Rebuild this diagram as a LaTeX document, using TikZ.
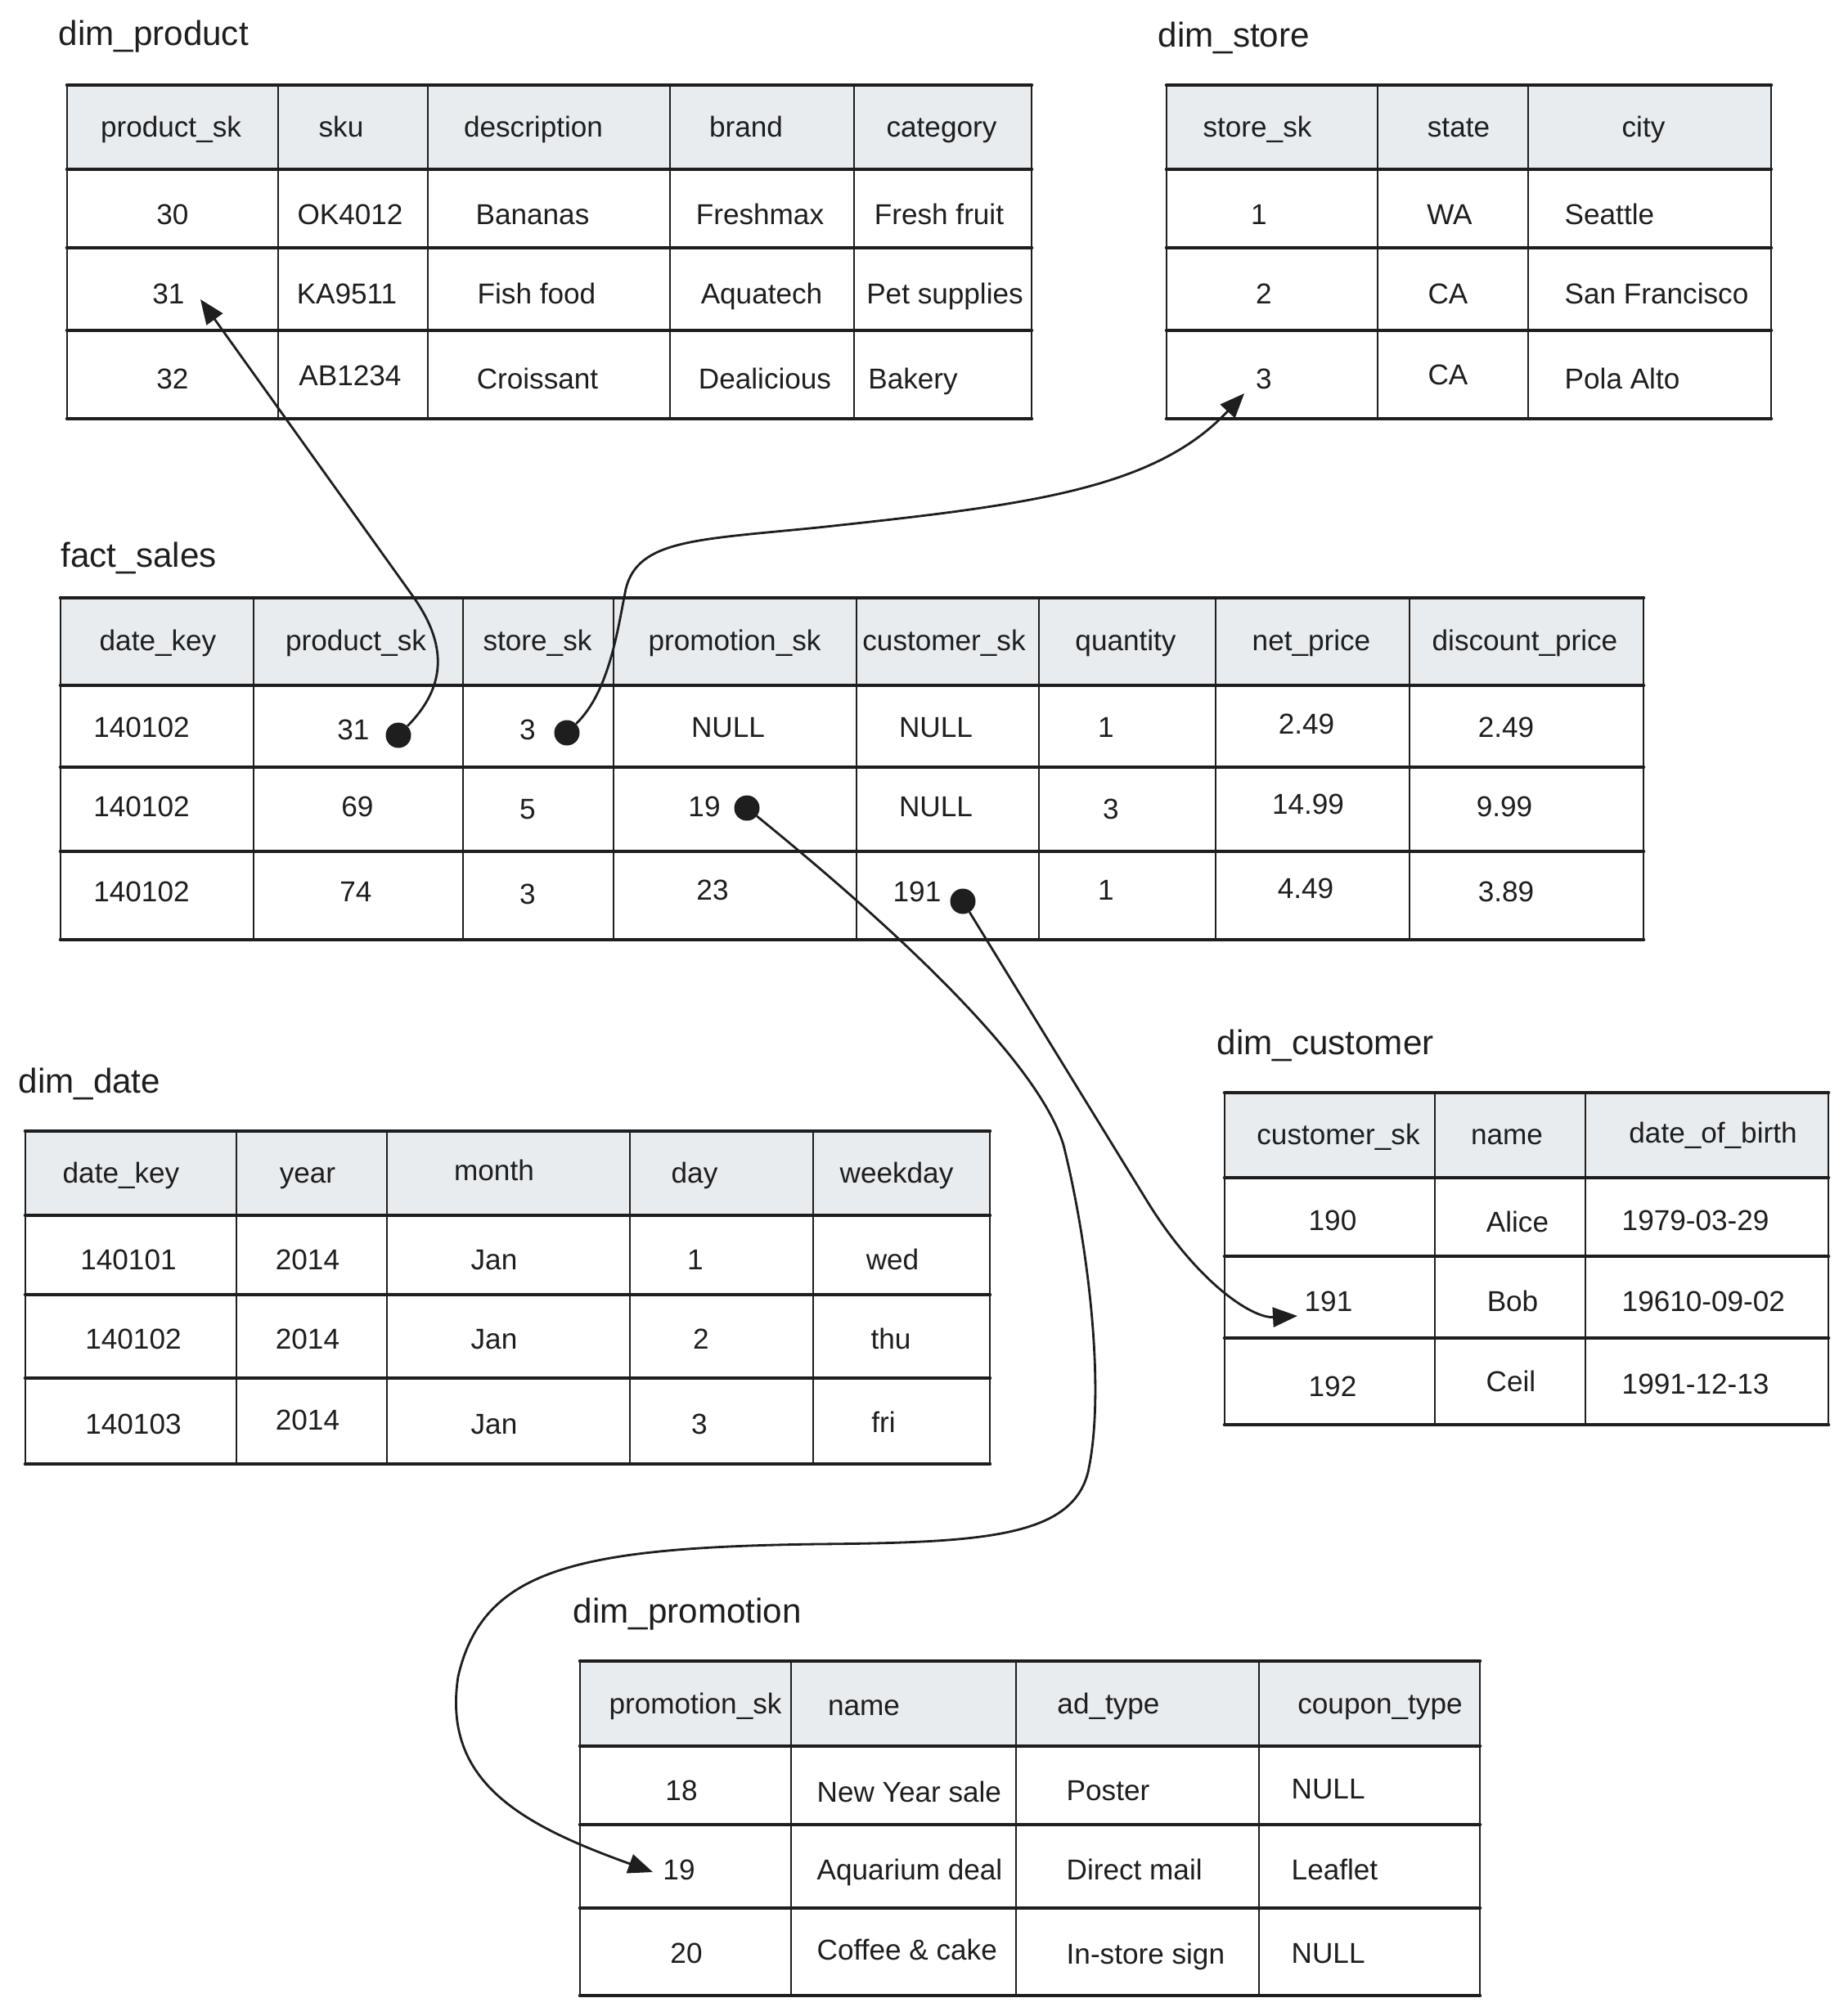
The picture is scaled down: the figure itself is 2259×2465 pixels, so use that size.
\documentclass[tikz,border=0pt]{standalone}
\usepackage{fontspec}
\setmainfont{Liberation Sans}
\usetikzlibrary{arrows.meta}
\definecolor{ink}{HTML}{1E1E1E}
\definecolor{hdrgray}{HTML}{E9ECEF}
\begin{document}
\begin{tikzpicture}[x=0.1mm,y=-0.1mm,
  hline/.style={line width=1.3pt, draw=ink, line cap=round},
  vline/.style={line width=0.75pt, draw=ink, line cap=round},
  hdrfill/.style={fill=hdrgray},
  cell/.style={inner sep=0pt, text height=7pt, text depth=2pt, yshift=-0.3mm, font=\fontsize{10}{12}\selectfont, text=ink},
  wcell/.style={cell, anchor=west},
  ttl/.style={anchor=base west, inner sep=0pt, font=\fontsize{12}{14}\selectfont, text=ink},
  dotnode/.style={circle, fill=ink, inner sep=0pt, minimum size=3.1mm},
  fk/.style={line width=0.8pt, draw=ink, line cap=round, -{Triangle[length=3mm, width=2.4mm]}}
]
\useasboundingbox (0,0) rectangle (2259,2465);

% ---------------- dim_product ----------------
\node[ttl] (tp) at (71,55) {dim\_product};
\fill[hdrfill] (82,104) rectangle (1261,207);
\foreach \y in {104,207,303,404,512} \draw[hline] (82,\y) -- (1261,\y);
\foreach \x in {82,340,523,819,1044,1261} \draw[vline] (\x,104) -- (\x,512);
\node[cell] (ph1) at (209,156) {product\_sk};
\node[cell] (ph2) at (417,156) {sku};
\node[cell] (ph3) at (652,156) {description};
\node[cell] (ph4) at (912,156) {brand};
\node[cell] (ph5) at (1151,156) {category};
\node[cell] (p11) at (211,263) {30};
\node[cell] (p12) at (428,263) {OK4012};
\node[cell] (p13) at (651,263) {Bananas};
\node[cell] (p14) at (929,263) {Freshmax};
\node[cell] (p15) at (1148,263) {Fresh fruit};
\node[cell] (p21) at (206,360) {31};
\node[cell] (p22) at (424,360) {KA9511};
\node[cell] (p23) at (656,360) {Fish food};
\node[cell] (p24) at (931,360) {Aquatech};
\node[cell] (p25) at (1155,360) {Pet supplies};
\node[cell] (p31) at (211,464) {32};
\node[cell] (p32) at (428,460) {AB1234};
\node[cell] (p33) at (657,464) {Croissant};
\node[cell] (p34) at (935,464) {Dealicious};
\node[cell] (p35) at (1116,464) {Bakery};

% ---------------- dim_store ----------------
\node[ttl] (ts) at (1415,57) {dim\_store};
\fill[hdrfill] (1426,104) rectangle (2165,207);
\foreach \y in {104,207,303,404,512} \draw[hline] (1426,\y) -- (2165,\y);
\foreach \x in {1426,1684,1868,2165} \draw[vline] (\x,104) -- (\x,512);
\node[cell] (sh1) at (1537,156) {store\_sk};
\node[cell] (sh2) at (1783,156) {state};
\node[cell] (sh3) at (2009,156) {city};
\node[cell] (s11) at (1539,263) {1};
\node[cell] (s12) at (1772,263) {WA};
\node[wcell] (s13) at (1912,263) {Seattle};
\node[cell] (s21) at (1545,360) {2};
\node[cell] (s22) at (1770,360) {CA};
\node[wcell] (s23) at (1912,360) {San Francisco};
\node[cell] (s31) at (1545,464) {3};
\node[cell] (s32) at (1770,459) {CA};
\node[wcell] (s33) at (1912,464) {Pola Alto};

% ---------------- fact_sales ----------------
\node[ttl] (tf) at (74,693) {fact\_sales};
\fill[hdrfill] (74,731) rectangle (2009,838);
\foreach \y in {731,838,938,1041,1149} \draw[hline] (74,\y) -- (2009,\y);
\foreach \x in {74,310,566,750,1047,1270,1486,1723,2009} \draw[vline] (\x,731) -- (\x,1149);
\node[cell] (fh1) at (193,784) {date\_key};
\node[cell] (fh2) at (435,784) {product\_sk};
\node[cell] (fh3) at (657,784) {store\_sk};
\node[cell] (fh4) at (898,784) {promotion\_sk};
\node[cell] (fh5) at (1154,784) {customer\_sk};
\node[cell] (fh6) at (1376,784) {quantity};
\node[cell] (fh7) at (1603,784) {net\_price};
\node[cell] (fh8) at (1864,784) {discount\_price};
\node[cell] (f11) at (173,890) {140102};
\node[cell] (f12) at (432,893) {31};
\node[cell] (f13) at (645,893) {3};
\node[cell] (f14) at (890,890) {NULL};
\node[cell] (f15) at (1144,890) {NULL};
\node[cell] (f16) at (1352,890) {1};
\node[cell] (f17) at (1597,886) {2.49};
\node[cell] (f18) at (1841,890) {2.49};
\node[cell] (f21) at (173,987) {140102};
\node[cell] (f22) at (437,987) {69};
\node[cell] (f23) at (645,990) {5};
\node[cell] (f24) at (861,987) {19};
\node[cell] (f25) at (1144,987) {NULL};
\node[cell] (f26) at (1358,990) {3};
\node[cell] (f27) at (1599,984) {14.99};
\node[cell] (f28) at (1839,987) {9.99};
\node[cell] (f31) at (173,1091) {140102};
\node[cell] (f32) at (435,1091) {74};
\node[cell] (f33) at (645,1094) {3};
\node[cell] (f34) at (871,1089) {23};
\node[cell] (f35) at (1121,1091) {191};
\node[cell] (f36) at (1352,1089) {1};
\node[cell] (f37) at (1596,1087) {4.49};
\node[cell] (f38) at (1841,1091) {3.89};

% ---------------- dim_date ----------------
\node[ttl] (td) at (22,1336) {dim\_date};
\fill[hdrfill] (31,1383) rectangle (1210,1486);
\foreach \y in {1383,1486,1583,1685,1790} \draw[hline] (31,\y) -- (1210,\y);
\foreach \x in {31,289,473,770,994,1210} \draw[vline] (\x,1383) -- (\x,1790);
\node[cell] (dh1) at (148,1435) {date\_key};
\node[cell] (dh2) at (376,1435) {year};
\node[cell] (dh3) at (604,1432) {month};
\node[cell] (dh4) at (849,1435) {day};
\node[cell] (dh5) at (1096,1435) {weekday};
\node[cell] (d11) at (157,1541) {140101};
\node[cell] (d12) at (376,1541) {2014};
\node[cell] (d13) at (604,1541) {Jan};
\node[cell] (d14) at (850,1541) {1};
\node[cell] (d15) at (1091,1541) {wed};
\node[cell] (d21) at (163,1638) {140102};
\node[cell] (d22) at (376,1638) {2014};
\node[cell] (d23) at (604,1638) {Jan};
\node[cell] (d24) at (857,1638) {2};
\node[cell] (d25) at (1089,1638) {thu};
\node[cell] (d31) at (163,1742) {140103};
\node[cell] (d32) at (376,1737) {2014};
\node[cell] (d33) at (604,1742) {Jan};
\node[cell] (d34) at (855,1742) {3};
\node[cell] (d35) at (1080,1740) {fri};

% ---------------- dim_customer ----------------
\node[ttl] (tc) at (1487,1289) {dim\_customer};
\fill[hdrfill] (1497,1336) rectangle (2235,1440);
\foreach \y in {1336,1440,1536,1636,1742} \draw[hline] (1497,\y) -- (2235,\y);
\foreach \x in {1497,1754,1938,2235} \draw[vline] (\x,1336) -- (\x,1742);
\node[cell] (ch1) at (1636,1388) {customer\_sk};
\node[cell] (ch2) at (1842,1388) {name};
\node[cell] (ch3) at (2094,1386) {date\_of\_birth};
\node[cell] (c11) at (1629,1493) {190};
\node[cell] (c12) at (1855,1495) {Alice};
\node[wcell] (c13) at (1982,1493) {1979-03-29};
\node[cell] (c21) at (1624,1592) {191};
\node[cell] (c22) at (1849,1592) {Bob};
\node[wcell] (c23) at (1982,1592) {19610-09-02};
\node[cell] (c31) at (1629,1696) {192};
\node[cell] (c32) at (1847,1690) {Ceil};
\node[wcell] (c33) at (1982,1693) {1991-12-13};

% ---------------- dim_promotion ----------------
\node[ttl] (tr) at (700,1984) {dim\_promotion};
\fill[hdrfill] (709,2031) rectangle (1809,2135);
\foreach \y in {2031,2135,2231,2333,2440} \draw[hline] (709,\y) -- (1809,\y);
\foreach \x in {709,967,1242,1539,1809} \draw[vline] (\x,2031) -- (\x,2440);
\node[cell] (rh1) at (850,2084) {promotion\_sk};
\node[cell] (rh2) at (1056,2086) {name};
\node[cell] (rh3) at (1355,2084) {ad\_type};
\node[cell] (rh4) at (1687,2084) {coupon\_type};
\node[cell] (r11) at (833,2190) {18};
\node[wcell] (r12) at (998,2192) {New Year sale};
\node[wcell] (r13) at (1303,2190) {Poster};
\node[wcell] (r14) at (1578,2188) {NULL};
\node[cell] (r21) at (830,2287) {19};
\node[wcell] (r22) at (998,2287) {Aquarium deal};
\node[wcell] (r23) at (1303,2287) {Direct mail};
\node[wcell] (r24) at (1578,2287) {Leaflet};
\node[cell] (r31) at (839,2389) {20};
\node[wcell] (r32) at (998,2385) {Coffee \& cake};
\node[wcell] (r33) at (1303,2390) {In-store sign};
\node[wcell] (r34) at (1578,2389) {NULL};

% ---------------- connectors ----------------
\node[dotnode] (d1) at (487,899) {};
\node[dotnode] (d2) at (693,896) {};
\node[dotnode] (d3) at (913,988) {};
\node[dotnode] (d4) at (1177,1102) {};
\coordinate (t1) at (245,366);
\coordinate (t2) at (1521,481);
\coordinate (t3) at (798,2289);
\coordinate (t4) at (1586,1609);

\draw[fk] (d1) .. controls (545,840) and (548,789) .. (504,728) -- (t1);
\draw[fk] (d2) .. controls (745,845) and (755,770) .. (765,720)
  .. controls (780,660) and (850,660) .. (1000,645)
  .. controls (1250,618) and (1410,600) .. (t2);
\draw[fk] (d3) .. controls (1100,1140) and (1270,1300) .. (1300,1400)
  .. controls (1330,1520) and (1352,1700) .. (1330,1800)
  .. controls (1310,1880) and (1200,1886) .. (1000,1888)
  .. controls (700,1892) and (590,1920) .. (560,2050)
  .. controls (540,2180) and (640,2232) .. (t3);
\draw[fk] (d4) -- (1400,1465) .. controls (1462,1567) and (1530,1612) .. (t4);
\end{tikzpicture}
\end{document}
